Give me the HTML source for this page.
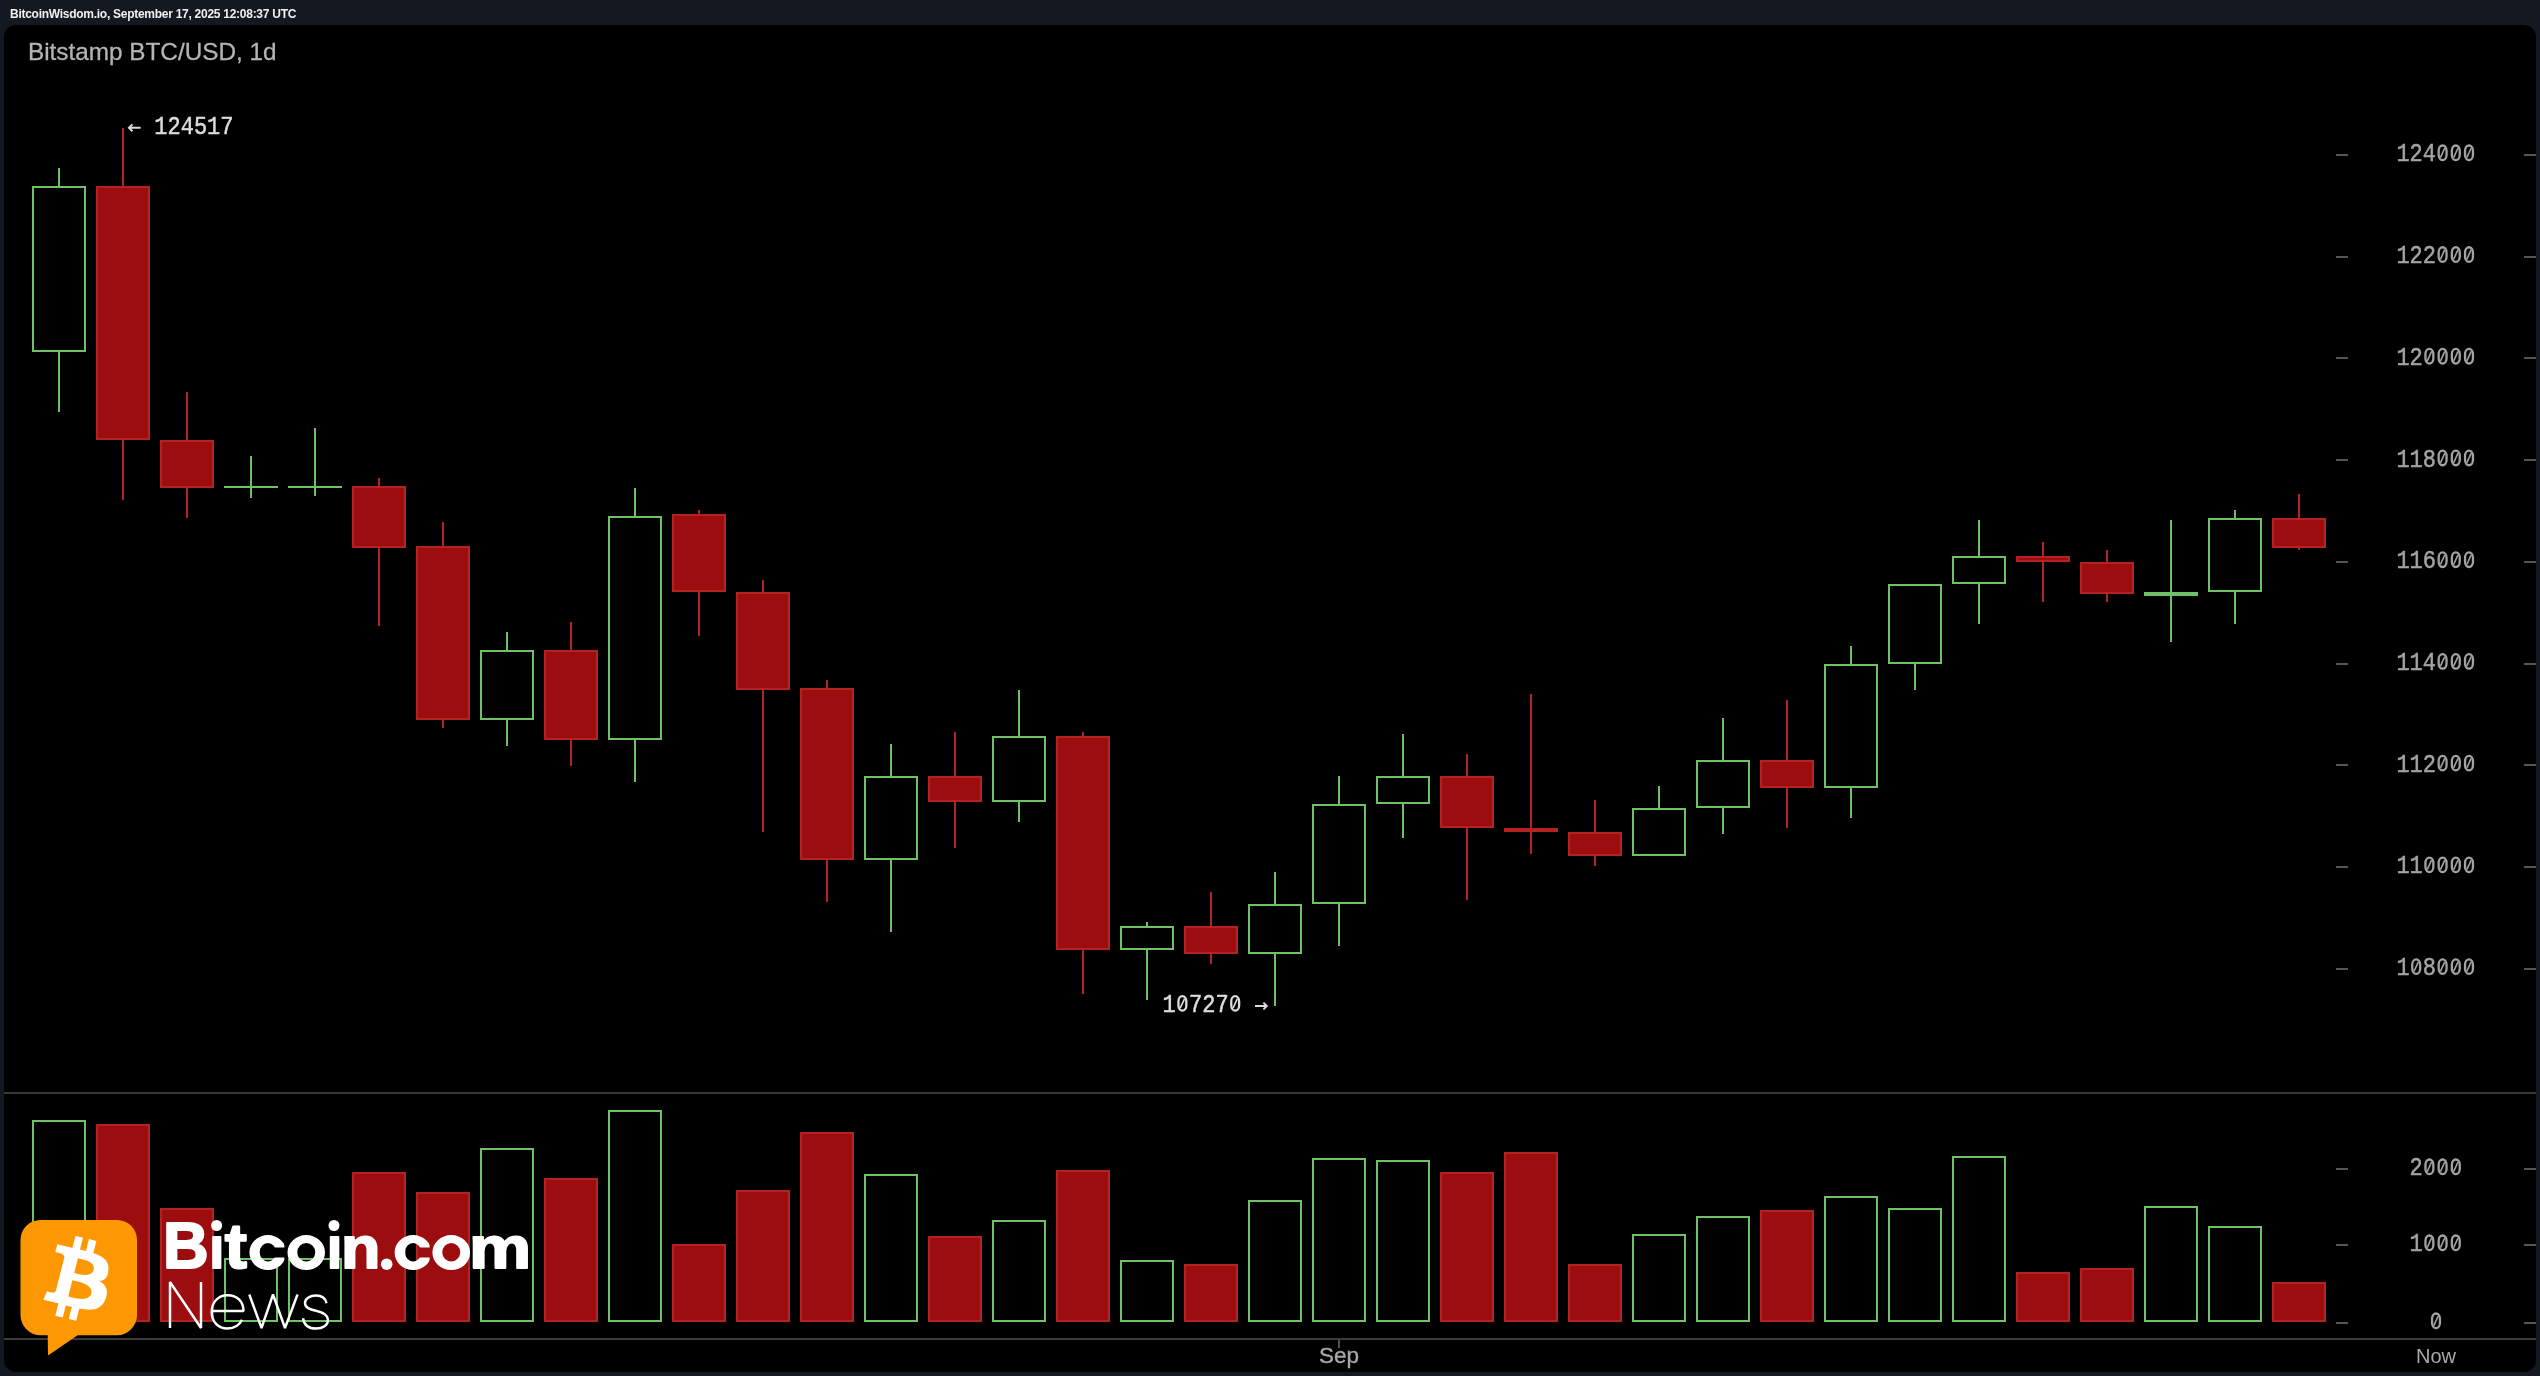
<!DOCTYPE html>
<html><head><meta charset="utf-8"><style>
html,body{margin:0;padding:0;background:#141821;width:2540px;height:1376px;overflow:hidden}
#top{position:absolute;left:10px;top:7.2px;will-change:transform;font:bold 12px "Liberation Sans",sans-serif;color:#f0f0f0;white-space:nowrap;letter-spacing:-0.27px}
#panel{position:absolute;left:4px;top:25px;width:2532px;height:1347px;background:#000;border-radius:12px;overflow:hidden}
svg{position:absolute;left:0;top:0;will-change:transform}
.ax{font-family:"Liberation Mono",monospace;font-size:22px;fill:#a3a3a3;stroke:#a3a3a3;stroke-width:0.45px;text-anchor:middle}
.t1{font-family:"Liberation Sans",sans-serif;font-size:24.5px;fill:#b4b4b4;stroke:#b4b4b4;stroke-width:0.3px}
.lbl{font-family:"Liberation Mono",monospace;font-size:22px;fill:#dcdcdc;stroke:#dcdcdc;stroke-width:0.45px}
.xl{font-family:"Liberation Sans",sans-serif;font-size:20px;fill:#a8a8a8;text-anchor:middle}
</style></head><body>
<div id="top">BitcoinWisdom.io, September 17, 2025 12:08:37 UTC</div>
<div id="panel"></div>
<svg width="2540" height="1376" viewBox="0 0 2540 1376">
<text x="28" y="60.3" class="t1" textLength="248.5" lengthAdjust="spacingAndGlyphs">Bitstamp BTC/USD, 1d</text>
<rect x="4" y="1092" width="2532" height="2" fill="#393939"/>
<rect x="4" y="1338" width="2532" height="2" fill="#3c3c3c"/>
<rect x="1338" y="1340" width="2" height="8" fill="#555"/>
<rect x="58" y="168" width="2" height="18" fill="#6fc166"/>
<rect x="58" y="352" width="2" height="60" fill="#6fc166"/>
<rect x="33" y="187" width="52" height="164" fill="none" stroke="#6fc166" stroke-width="2"/>
<rect x="122" y="128" width="2" height="58" fill="#b42322"/>
<rect x="122" y="440" width="2" height="60" fill="#b42322"/>
<rect x="97" y="187" width="52" height="252" fill="#9b0d0e" stroke="#b42322" stroke-width="2"/>
<rect x="186" y="392" width="2" height="48" fill="#b42322"/>
<rect x="186" y="488" width="2" height="30" fill="#b42322"/>
<rect x="161" y="441" width="52" height="46" fill="#9b0d0e" stroke="#b42322" stroke-width="2"/>
<rect x="250" y="456" width="2" height="30" fill="#6fc166"/>
<rect x="250" y="488" width="2" height="10" fill="#6fc166"/>
<rect x="224" y="486" width="54" height="2" fill="#6fc166"/>
<rect x="314" y="428" width="2" height="58" fill="#6fc166"/>
<rect x="314" y="488" width="2" height="8" fill="#6fc166"/>
<rect x="288" y="486" width="54" height="2" fill="#6fc166"/>
<rect x="378" y="478" width="2" height="8" fill="#b42322"/>
<rect x="378" y="548" width="2" height="78" fill="#b42322"/>
<rect x="353" y="487" width="52" height="60" fill="#9b0d0e" stroke="#b42322" stroke-width="2"/>
<rect x="442" y="522" width="2" height="24" fill="#b42322"/>
<rect x="442" y="720" width="2" height="8" fill="#b42322"/>
<rect x="417" y="547" width="52" height="172" fill="#9b0d0e" stroke="#b42322" stroke-width="2"/>
<rect x="506" y="632" width="2" height="18" fill="#6fc166"/>
<rect x="506" y="720" width="2" height="26" fill="#6fc166"/>
<rect x="481" y="651" width="52" height="68" fill="none" stroke="#6fc166" stroke-width="2"/>
<rect x="570" y="622" width="2" height="28" fill="#b42322"/>
<rect x="570" y="740" width="2" height="26" fill="#b42322"/>
<rect x="545" y="651" width="52" height="88" fill="#9b0d0e" stroke="#b42322" stroke-width="2"/>
<rect x="634" y="488" width="2" height="28" fill="#6fc166"/>
<rect x="634" y="740" width="2" height="42" fill="#6fc166"/>
<rect x="609" y="517" width="52" height="222" fill="none" stroke="#6fc166" stroke-width="2"/>
<rect x="698" y="510" width="2" height="4" fill="#b42322"/>
<rect x="698" y="592" width="2" height="44" fill="#b42322"/>
<rect x="673" y="515" width="52" height="76" fill="#9b0d0e" stroke="#b42322" stroke-width="2"/>
<rect x="762" y="580" width="2" height="12" fill="#b42322"/>
<rect x="762" y="690" width="2" height="142" fill="#b42322"/>
<rect x="737" y="593" width="52" height="96" fill="#9b0d0e" stroke="#b42322" stroke-width="2"/>
<rect x="826" y="680" width="2" height="8" fill="#b42322"/>
<rect x="826" y="860" width="2" height="42" fill="#b42322"/>
<rect x="801" y="689" width="52" height="170" fill="#9b0d0e" stroke="#b42322" stroke-width="2"/>
<rect x="890" y="744" width="2" height="32" fill="#6fc166"/>
<rect x="890" y="860" width="2" height="72" fill="#6fc166"/>
<rect x="865" y="777" width="52" height="82" fill="none" stroke="#6fc166" stroke-width="2"/>
<rect x="954" y="732" width="2" height="44" fill="#b42322"/>
<rect x="954" y="802" width="2" height="46" fill="#b42322"/>
<rect x="929" y="777" width="52" height="24" fill="#9b0d0e" stroke="#b42322" stroke-width="2"/>
<rect x="1018" y="690" width="2" height="46" fill="#6fc166"/>
<rect x="1018" y="802" width="2" height="20" fill="#6fc166"/>
<rect x="993" y="737" width="52" height="64" fill="none" stroke="#6fc166" stroke-width="2"/>
<rect x="1082" y="732" width="2" height="4" fill="#b42322"/>
<rect x="1082" y="950" width="2" height="44" fill="#b42322"/>
<rect x="1057" y="737" width="52" height="212" fill="#9b0d0e" stroke="#b42322" stroke-width="2"/>
<rect x="1146" y="922" width="2" height="4" fill="#6fc166"/>
<rect x="1146" y="950" width="2" height="50" fill="#6fc166"/>
<rect x="1121" y="927" width="52" height="22" fill="none" stroke="#6fc166" stroke-width="2"/>
<rect x="1210" y="892" width="2" height="34" fill="#b42322"/>
<rect x="1210" y="954" width="2" height="10" fill="#b42322"/>
<rect x="1185" y="927" width="52" height="26" fill="#9b0d0e" stroke="#b42322" stroke-width="2"/>
<rect x="1274" y="872" width="2" height="32" fill="#6fc166"/>
<rect x="1274" y="954" width="2" height="52" fill="#6fc166"/>
<rect x="1249" y="905" width="52" height="48" fill="none" stroke="#6fc166" stroke-width="2"/>
<rect x="1338" y="776" width="2" height="28" fill="#6fc166"/>
<rect x="1338" y="904" width="2" height="42" fill="#6fc166"/>
<rect x="1313" y="805" width="52" height="98" fill="none" stroke="#6fc166" stroke-width="2"/>
<rect x="1402" y="734" width="2" height="42" fill="#6fc166"/>
<rect x="1402" y="804" width="2" height="34" fill="#6fc166"/>
<rect x="1377" y="777" width="52" height="26" fill="none" stroke="#6fc166" stroke-width="2"/>
<rect x="1466" y="754" width="2" height="22" fill="#b42322"/>
<rect x="1466" y="828" width="2" height="72" fill="#b42322"/>
<rect x="1441" y="777" width="52" height="50" fill="#9b0d0e" stroke="#b42322" stroke-width="2"/>
<rect x="1530" y="694" width="2" height="134" fill="#b42322"/>
<rect x="1530" y="832" width="2" height="22" fill="#b42322"/>
<rect x="1505" y="829" width="52" height="2" fill="#9b0d0e" stroke="#b42322" stroke-width="2"/>
<rect x="1594" y="800" width="2" height="32" fill="#b42322"/>
<rect x="1594" y="856" width="2" height="10" fill="#b42322"/>
<rect x="1569" y="833" width="52" height="22" fill="#9b0d0e" stroke="#b42322" stroke-width="2"/>
<rect x="1658" y="786" width="2" height="22" fill="#6fc166"/>
<rect x="1633" y="809" width="52" height="46" fill="none" stroke="#6fc166" stroke-width="2"/>
<rect x="1722" y="718" width="2" height="42" fill="#6fc166"/>
<rect x="1722" y="808" width="2" height="26" fill="#6fc166"/>
<rect x="1697" y="761" width="52" height="46" fill="none" stroke="#6fc166" stroke-width="2"/>
<rect x="1786" y="700" width="2" height="60" fill="#b42322"/>
<rect x="1786" y="788" width="2" height="40" fill="#b42322"/>
<rect x="1761" y="761" width="52" height="26" fill="#9b0d0e" stroke="#b42322" stroke-width="2"/>
<rect x="1850" y="646" width="2" height="18" fill="#6fc166"/>
<rect x="1850" y="788" width="2" height="30" fill="#6fc166"/>
<rect x="1825" y="665" width="52" height="122" fill="none" stroke="#6fc166" stroke-width="2"/>
<rect x="1914" y="664" width="2" height="26" fill="#6fc166"/>
<rect x="1889" y="585" width="52" height="78" fill="none" stroke="#6fc166" stroke-width="2"/>
<rect x="1978" y="520" width="2" height="36" fill="#6fc166"/>
<rect x="1978" y="584" width="2" height="40" fill="#6fc166"/>
<rect x="1953" y="557" width="52" height="26" fill="none" stroke="#6fc166" stroke-width="2"/>
<rect x="2042" y="542" width="2" height="14" fill="#b42322"/>
<rect x="2042" y="562" width="2" height="40" fill="#b42322"/>
<rect x="2017" y="557" width="52" height="4" fill="#9b0d0e" stroke="#b42322" stroke-width="2"/>
<rect x="2106" y="550" width="2" height="12" fill="#b42322"/>
<rect x="2106" y="594" width="2" height="8" fill="#b42322"/>
<rect x="2081" y="563" width="52" height="30" fill="#9b0d0e" stroke="#b42322" stroke-width="2"/>
<rect x="2170" y="520" width="2" height="72" fill="#6fc166"/>
<rect x="2170" y="596" width="2" height="46" fill="#6fc166"/>
<rect x="2145" y="593" width="52" height="2" fill="none" stroke="#6fc166" stroke-width="2"/>
<rect x="2234" y="510" width="2" height="8" fill="#6fc166"/>
<rect x="2234" y="592" width="2" height="32" fill="#6fc166"/>
<rect x="2209" y="519" width="52" height="72" fill="none" stroke="#6fc166" stroke-width="2"/>
<rect x="2298" y="494" width="2" height="24" fill="#b42322"/>
<rect x="2298" y="548" width="2" height="2" fill="#b42322"/>
<rect x="2273" y="519" width="52" height="28" fill="#9b0d0e" stroke="#b42322" stroke-width="2"/>
<rect x="33" y="1121" width="52" height="200" fill="none" stroke="#6fc166" stroke-width="2"/>
<rect x="97" y="1125" width="52" height="196" fill="#9b0d0e" stroke="#b42322" stroke-width="2"/>
<rect x="161" y="1209" width="52" height="112" fill="#9b0d0e" stroke="#b42322" stroke-width="2"/>
<rect x="225" y="1259" width="52" height="62" fill="none" stroke="#6fc166" stroke-width="2"/>
<rect x="289" y="1259" width="52" height="62" fill="none" stroke="#6fc166" stroke-width="2"/>
<rect x="353" y="1173" width="52" height="148" fill="#9b0d0e" stroke="#b42322" stroke-width="2"/>
<rect x="417" y="1193" width="52" height="128" fill="#9b0d0e" stroke="#b42322" stroke-width="2"/>
<rect x="481" y="1149" width="52" height="172" fill="none" stroke="#6fc166" stroke-width="2"/>
<rect x="545" y="1179" width="52" height="142" fill="#9b0d0e" stroke="#b42322" stroke-width="2"/>
<rect x="609" y="1111" width="52" height="210" fill="none" stroke="#6fc166" stroke-width="2"/>
<rect x="673" y="1245" width="52" height="76" fill="#9b0d0e" stroke="#b42322" stroke-width="2"/>
<rect x="737" y="1191" width="52" height="130" fill="#9b0d0e" stroke="#b42322" stroke-width="2"/>
<rect x="801" y="1133" width="52" height="188" fill="#9b0d0e" stroke="#b42322" stroke-width="2"/>
<rect x="865" y="1175" width="52" height="146" fill="none" stroke="#6fc166" stroke-width="2"/>
<rect x="929" y="1237" width="52" height="84" fill="#9b0d0e" stroke="#b42322" stroke-width="2"/>
<rect x="993" y="1221" width="52" height="100" fill="none" stroke="#6fc166" stroke-width="2"/>
<rect x="1057" y="1171" width="52" height="150" fill="#9b0d0e" stroke="#b42322" stroke-width="2"/>
<rect x="1121" y="1261" width="52" height="60" fill="none" stroke="#6fc166" stroke-width="2"/>
<rect x="1185" y="1265" width="52" height="56" fill="#9b0d0e" stroke="#b42322" stroke-width="2"/>
<rect x="1249" y="1201" width="52" height="120" fill="none" stroke="#6fc166" stroke-width="2"/>
<rect x="1313" y="1159" width="52" height="162" fill="none" stroke="#6fc166" stroke-width="2"/>
<rect x="1377" y="1161" width="52" height="160" fill="none" stroke="#6fc166" stroke-width="2"/>
<rect x="1441" y="1173" width="52" height="148" fill="#9b0d0e" stroke="#b42322" stroke-width="2"/>
<rect x="1505" y="1153" width="52" height="168" fill="#9b0d0e" stroke="#b42322" stroke-width="2"/>
<rect x="1569" y="1265" width="52" height="56" fill="#9b0d0e" stroke="#b42322" stroke-width="2"/>
<rect x="1633" y="1235" width="52" height="86" fill="none" stroke="#6fc166" stroke-width="2"/>
<rect x="1697" y="1217" width="52" height="104" fill="none" stroke="#6fc166" stroke-width="2"/>
<rect x="1761" y="1211" width="52" height="110" fill="#9b0d0e" stroke="#b42322" stroke-width="2"/>
<rect x="1825" y="1197" width="52" height="124" fill="none" stroke="#6fc166" stroke-width="2"/>
<rect x="1889" y="1209" width="52" height="112" fill="none" stroke="#6fc166" stroke-width="2"/>
<rect x="1953" y="1157" width="52" height="164" fill="none" stroke="#6fc166" stroke-width="2"/>
<rect x="2017" y="1273" width="52" height="48" fill="#9b0d0e" stroke="#b42322" stroke-width="2"/>
<rect x="2081" y="1269" width="52" height="52" fill="#9b0d0e" stroke="#b42322" stroke-width="2"/>
<rect x="2145" y="1207" width="52" height="114" fill="none" stroke="#6fc166" stroke-width="2"/>
<rect x="2209" y="1227" width="52" height="94" fill="none" stroke="#6fc166" stroke-width="2"/>
<rect x="2273" y="1283" width="52" height="38" fill="#9b0d0e" stroke="#b42322" stroke-width="2"/>
<rect x="2336" y="154" width="12" height="2" fill="#555555"/><rect x="2524" y="154" width="12" height="2" fill="#555555"/>
<text transform="translate(2436,161.3) scale(1,1.17)" class="ax" xml:space="preserve">124   </text><rect x="2438.65" y="145.50" width="7.9" height="14.6" rx="3.95" ry="5.2" fill="none" stroke="#a3a3a3" stroke-width="2.3"/><path d="M2440.4,157.6 L2444.8,148.0" stroke="#a3a3a3" stroke-width="1.6"/><rect x="2451.85" y="145.50" width="7.9" height="14.6" rx="3.95" ry="5.2" fill="none" stroke="#a3a3a3" stroke-width="2.3"/><path d="M2453.6,157.6 L2458.0,148.0" stroke="#a3a3a3" stroke-width="1.6"/><rect x="2465.05" y="145.50" width="7.9" height="14.6" rx="3.95" ry="5.2" fill="none" stroke="#a3a3a3" stroke-width="2.3"/><path d="M2466.8,157.6 L2471.2,148.0" stroke="#a3a3a3" stroke-width="1.6"/>
<rect x="2336" y="256" width="12" height="2" fill="#555555"/><rect x="2524" y="256" width="12" height="2" fill="#555555"/>
<text transform="translate(2436,263.0) scale(1,1.17)" class="ax" xml:space="preserve">122   </text><rect x="2438.65" y="247.23" width="7.9" height="14.6" rx="3.95" ry="5.2" fill="none" stroke="#a3a3a3" stroke-width="2.3"/><path d="M2440.4,259.3 L2444.8,249.7" stroke="#a3a3a3" stroke-width="1.6"/><rect x="2451.85" y="247.23" width="7.9" height="14.6" rx="3.95" ry="5.2" fill="none" stroke="#a3a3a3" stroke-width="2.3"/><path d="M2453.6,259.3 L2458.0,249.7" stroke="#a3a3a3" stroke-width="1.6"/><rect x="2465.05" y="247.23" width="7.9" height="14.6" rx="3.95" ry="5.2" fill="none" stroke="#a3a3a3" stroke-width="2.3"/><path d="M2466.8,259.3 L2471.2,249.7" stroke="#a3a3a3" stroke-width="1.6"/>
<rect x="2336" y="357" width="12" height="2" fill="#555555"/><rect x="2524" y="357" width="12" height="2" fill="#555555"/>
<text transform="translate(2436,364.8) scale(1,1.17)" class="ax" xml:space="preserve">12    </text><rect x="2425.45" y="348.95" width="7.9" height="14.6" rx="3.95" ry="5.2" fill="none" stroke="#a3a3a3" stroke-width="2.3"/><path d="M2427.2,361.1 L2431.6,351.4" stroke="#a3a3a3" stroke-width="1.6"/><rect x="2438.65" y="348.95" width="7.9" height="14.6" rx="3.95" ry="5.2" fill="none" stroke="#a3a3a3" stroke-width="2.3"/><path d="M2440.4,361.1 L2444.8,351.4" stroke="#a3a3a3" stroke-width="1.6"/><rect x="2451.85" y="348.95" width="7.9" height="14.6" rx="3.95" ry="5.2" fill="none" stroke="#a3a3a3" stroke-width="2.3"/><path d="M2453.6,361.1 L2458.0,351.4" stroke="#a3a3a3" stroke-width="1.6"/><rect x="2465.05" y="348.95" width="7.9" height="14.6" rx="3.95" ry="5.2" fill="none" stroke="#a3a3a3" stroke-width="2.3"/><path d="M2466.8,361.1 L2471.2,351.4" stroke="#a3a3a3" stroke-width="1.6"/>
<rect x="2336" y="459" width="12" height="2" fill="#555555"/><rect x="2524" y="459" width="12" height="2" fill="#555555"/>
<text transform="translate(2436,466.5) scale(1,1.17)" class="ax" xml:space="preserve">118   </text><rect x="2438.65" y="450.67" width="7.9" height="14.6" rx="3.95" ry="5.2" fill="none" stroke="#a3a3a3" stroke-width="2.3"/><path d="M2440.4,462.8 L2444.8,453.2" stroke="#a3a3a3" stroke-width="1.6"/><rect x="2451.85" y="450.67" width="7.9" height="14.6" rx="3.95" ry="5.2" fill="none" stroke="#a3a3a3" stroke-width="2.3"/><path d="M2453.6,462.8 L2458.0,453.2" stroke="#a3a3a3" stroke-width="1.6"/><rect x="2465.05" y="450.67" width="7.9" height="14.6" rx="3.95" ry="5.2" fill="none" stroke="#a3a3a3" stroke-width="2.3"/><path d="M2466.8,462.8 L2471.2,453.2" stroke="#a3a3a3" stroke-width="1.6"/>
<rect x="2336" y="561" width="12" height="2" fill="#555555"/><rect x="2524" y="561" width="12" height="2" fill="#555555"/>
<text transform="translate(2436,568.2) scale(1,1.17)" class="ax" xml:space="preserve">116   </text><rect x="2438.65" y="552.40" width="7.9" height="14.6" rx="3.95" ry="5.2" fill="none" stroke="#a3a3a3" stroke-width="2.3"/><path d="M2440.4,564.5 L2444.8,554.9" stroke="#a3a3a3" stroke-width="1.6"/><rect x="2451.85" y="552.40" width="7.9" height="14.6" rx="3.95" ry="5.2" fill="none" stroke="#a3a3a3" stroke-width="2.3"/><path d="M2453.6,564.5 L2458.0,554.9" stroke="#a3a3a3" stroke-width="1.6"/><rect x="2465.05" y="552.40" width="7.9" height="14.6" rx="3.95" ry="5.2" fill="none" stroke="#a3a3a3" stroke-width="2.3"/><path d="M2466.8,564.5 L2471.2,554.9" stroke="#a3a3a3" stroke-width="1.6"/>
<rect x="2336" y="663" width="12" height="2" fill="#555555"/><rect x="2524" y="663" width="12" height="2" fill="#555555"/>
<text transform="translate(2436,669.9) scale(1,1.17)" class="ax" xml:space="preserve">114   </text><rect x="2438.65" y="654.12" width="7.9" height="14.6" rx="3.95" ry="5.2" fill="none" stroke="#a3a3a3" stroke-width="2.3"/><path d="M2440.4,666.2 L2444.8,656.6" stroke="#a3a3a3" stroke-width="1.6"/><rect x="2451.85" y="654.12" width="7.9" height="14.6" rx="3.95" ry="5.2" fill="none" stroke="#a3a3a3" stroke-width="2.3"/><path d="M2453.6,666.2 L2458.0,656.6" stroke="#a3a3a3" stroke-width="1.6"/><rect x="2465.05" y="654.12" width="7.9" height="14.6" rx="3.95" ry="5.2" fill="none" stroke="#a3a3a3" stroke-width="2.3"/><path d="M2466.8,666.2 L2471.2,656.6" stroke="#a3a3a3" stroke-width="1.6"/>
<rect x="2336" y="764" width="12" height="2" fill="#555555"/><rect x="2524" y="764" width="12" height="2" fill="#555555"/>
<text transform="translate(2436,771.6) scale(1,1.17)" class="ax" xml:space="preserve">112   </text><rect x="2438.65" y="755.85" width="7.9" height="14.6" rx="3.95" ry="5.2" fill="none" stroke="#a3a3a3" stroke-width="2.3"/><path d="M2440.4,767.9 L2444.8,758.3" stroke="#a3a3a3" stroke-width="1.6"/><rect x="2451.85" y="755.85" width="7.9" height="14.6" rx="3.95" ry="5.2" fill="none" stroke="#a3a3a3" stroke-width="2.3"/><path d="M2453.6,767.9 L2458.0,758.3" stroke="#a3a3a3" stroke-width="1.6"/><rect x="2465.05" y="755.85" width="7.9" height="14.6" rx="3.95" ry="5.2" fill="none" stroke="#a3a3a3" stroke-width="2.3"/><path d="M2466.8,767.9 L2471.2,758.3" stroke="#a3a3a3" stroke-width="1.6"/>
<rect x="2336" y="866" width="12" height="2" fill="#555555"/><rect x="2524" y="866" width="12" height="2" fill="#555555"/>
<text transform="translate(2436,873.4) scale(1,1.17)" class="ax" xml:space="preserve">11    </text><rect x="2425.45" y="857.57" width="7.9" height="14.6" rx="3.95" ry="5.2" fill="none" stroke="#a3a3a3" stroke-width="2.3"/><path d="M2427.2,869.7 L2431.6,860.1" stroke="#a3a3a3" stroke-width="1.6"/><rect x="2438.65" y="857.57" width="7.9" height="14.6" rx="3.95" ry="5.2" fill="none" stroke="#a3a3a3" stroke-width="2.3"/><path d="M2440.4,869.7 L2444.8,860.1" stroke="#a3a3a3" stroke-width="1.6"/><rect x="2451.85" y="857.57" width="7.9" height="14.6" rx="3.95" ry="5.2" fill="none" stroke="#a3a3a3" stroke-width="2.3"/><path d="M2453.6,869.7 L2458.0,860.1" stroke="#a3a3a3" stroke-width="1.6"/><rect x="2465.05" y="857.57" width="7.9" height="14.6" rx="3.95" ry="5.2" fill="none" stroke="#a3a3a3" stroke-width="2.3"/><path d="M2466.8,869.7 L2471.2,860.1" stroke="#a3a3a3" stroke-width="1.6"/>
<rect x="2336" y="968" width="12" height="2" fill="#555555"/><rect x="2524" y="968" width="12" height="2" fill="#555555"/>
<text transform="translate(2436,975.1) scale(1,1.17)" class="ax" xml:space="preserve">1 8   </text><rect x="2412.25" y="959.30" width="7.9" height="14.6" rx="3.95" ry="5.2" fill="none" stroke="#a3a3a3" stroke-width="2.3"/><path d="M2414.0,971.4 L2418.4,961.8" stroke="#a3a3a3" stroke-width="1.6"/><rect x="2438.65" y="959.30" width="7.9" height="14.6" rx="3.95" ry="5.2" fill="none" stroke="#a3a3a3" stroke-width="2.3"/><path d="M2440.4,971.4 L2444.8,961.8" stroke="#a3a3a3" stroke-width="1.6"/><rect x="2451.85" y="959.30" width="7.9" height="14.6" rx="3.95" ry="5.2" fill="none" stroke="#a3a3a3" stroke-width="2.3"/><path d="M2453.6,971.4 L2458.0,961.8" stroke="#a3a3a3" stroke-width="1.6"/><rect x="2465.05" y="959.30" width="7.9" height="14.6" rx="3.95" ry="5.2" fill="none" stroke="#a3a3a3" stroke-width="2.3"/><path d="M2466.8,971.4 L2471.2,961.8" stroke="#a3a3a3" stroke-width="1.6"/>
<rect x="2336" y="1168" width="12" height="2" fill="#555555"/><rect x="2524" y="1168" width="12" height="2" fill="#555555"/>
<text transform="translate(2436,1175.3) scale(1,1.17)" class="ax" xml:space="preserve">2   </text><rect x="2425.45" y="1159.50" width="7.9" height="14.6" rx="3.95" ry="5.2" fill="none" stroke="#a3a3a3" stroke-width="2.3"/><path d="M2427.2,1171.6 L2431.6,1162.0" stroke="#a3a3a3" stroke-width="1.6"/><rect x="2438.65" y="1159.50" width="7.9" height="14.6" rx="3.95" ry="5.2" fill="none" stroke="#a3a3a3" stroke-width="2.3"/><path d="M2440.4,1171.6 L2444.8,1162.0" stroke="#a3a3a3" stroke-width="1.6"/><rect x="2451.85" y="1159.50" width="7.9" height="14.6" rx="3.95" ry="5.2" fill="none" stroke="#a3a3a3" stroke-width="2.3"/><path d="M2453.6,1171.6 L2458.0,1162.0" stroke="#a3a3a3" stroke-width="1.6"/>
<rect x="2336" y="1244" width="12" height="2" fill="#555555"/><rect x="2524" y="1244" width="12" height="2" fill="#555555"/>
<text transform="translate(2436,1251.3) scale(1,1.17)" class="ax" xml:space="preserve">1   </text><rect x="2425.45" y="1235.50" width="7.9" height="14.6" rx="3.95" ry="5.2" fill="none" stroke="#a3a3a3" stroke-width="2.3"/><path d="M2427.2,1247.6 L2431.6,1238.0" stroke="#a3a3a3" stroke-width="1.6"/><rect x="2438.65" y="1235.50" width="7.9" height="14.6" rx="3.95" ry="5.2" fill="none" stroke="#a3a3a3" stroke-width="2.3"/><path d="M2440.4,1247.6 L2444.8,1238.0" stroke="#a3a3a3" stroke-width="1.6"/><rect x="2451.85" y="1235.50" width="7.9" height="14.6" rx="3.95" ry="5.2" fill="none" stroke="#a3a3a3" stroke-width="2.3"/><path d="M2453.6,1247.6 L2458.0,1238.0" stroke="#a3a3a3" stroke-width="1.6"/>
<rect x="2336" y="1322" width="12" height="2" fill="#555555"/><rect x="2524" y="1322" width="12" height="2" fill="#555555"/>
<text transform="translate(2436,1329.3) scale(1,1.17)" class="ax" xml:space="preserve"> </text><rect x="2432.05" y="1313.50" width="7.9" height="14.6" rx="3.95" ry="5.2" fill="none" stroke="#a3a3a3" stroke-width="2.3"/><path d="M2433.8,1325.6 L2438.2,1316.0" stroke="#a3a3a3" stroke-width="1.6"/>
<text transform="translate(154.3,134.2) scale(1,1.17)" class="lbl" xml:space="preserve">124517</text>
<text transform="translate(1162.6,1011.9) scale(1,1.17)" class="lbl" xml:space="preserve">1 727 </text><rect x="1178.45" y="996.10" width="7.9" height="14.6" rx="3.95" ry="5.2" fill="none" stroke="#dcdcdc" stroke-width="2.3"/><path d="M1180.2,1008.2 L1184.6,998.6" stroke="#dcdcdc" stroke-width="1.6"/><rect x="1231.25" y="996.10" width="7.9" height="14.6" rx="3.95" ry="5.2" fill="none" stroke="#dcdcdc" stroke-width="2.3"/><path d="M1233.0,1008.2 L1237.4,998.6" stroke="#dcdcdc" stroke-width="1.6"/>
<path d="M140.6,127.8 H129.5 M132.4,124.4 L129,127.8 L132.4,131.2" fill="none" stroke="#dcdcdc" stroke-width="2"/>
<path d="M1255,1006 H1266.3 M1263.4,1002.6 L1266.8,1006 L1263.4,1009.4" fill="none" stroke="#dcdcdc" stroke-width="2"/>
<text x="1339" y="1363" class="xl" style="font-size:22.5px;stroke:#a8a8a8;stroke-width:0.35px">Sep</text>
<text x="2436" y="1363" class="xl">Now</text>
<g id="logo">
<path d="M40.5,1220 H117 A20,20 0 0 1 137,1240 V1315.2 A20,20 0 0 1 117,1335.2 H77.6 L48,1355.5 L47.7,1335.2 H40.5 A20,20 0 0 1 20.5,1315.2 V1240 A20,20 0 0 1 40.5,1220 Z" fill="#fd9803"/>
<path transform="translate(10.14,1212.4) scale(2.13,2.098)" fill="#fff" d="M46.103,27.444c0.637-4.258-2.605-6.547-7.038-8.074l1.438-5.768l-3.511-0.875l-1.4,5.616c-0.923-0.23-1.871-0.447-2.813-0.662l1.41-5.653l-3.509-0.875l-1.439,5.766c-0.764-0.174-1.514-0.346-2.242-0.527l0.004-0.018l-4.842-1.209l-0.934,3.750c0,0,2.605,0.597,2.550,0.634c1.422,0.355,1.679,1.296,1.636,2.042l-1.638,6.571c0.098,0.025,0.225,0.061,0.365,0.117c-0.117-0.029-0.242-0.061-0.371-0.092l-2.296,9.205c-0.174,0.432-0.615,1.080-1.609,0.834c0.035,0.051-2.552-0.637-2.552-0.637l-1.743,4.019l4.569,1.139c0.850,0.213,1.683,0.436,2.503,0.646l-1.453,5.834l3.507,0.875l1.439-5.772c0.958,0.260,1.888,0.500,2.798,0.726l-1.434,5.745l3.511,0.875l1.453-5.823c5.987,1.133,10.489,0.676,12.384-4.739c1.527-4.360-0.076-6.875-3.226-8.515C44.236,32.641,45.971,31.143,46.103,27.444L46.103,27.444z M38.080,38.690c-1.085,4.360-8.426,2.003-10.806,1.412l1.928-7.729C31.582,32.968,39.216,34.146,38.080,38.690z M39.166,27.381c-0.990,3.966-7.100,1.951-9.082,1.457l1.748-7.010C33.814,22.322,40.195,23.244,39.166,27.381z"/>
<g font-family="Liberation Sans" font-weight="bold" font-size="63" fill="#fff" stroke="#fff" stroke-width="2" stroke-linejoin="round">
<text transform="translate(162.99,1268.20) scale(1.003,1.030)">B</text>
<text transform="translate(209.18,1268.20) scale(0.856,0.933)">ı</text>
<text transform="translate(224.64,1267.81) scale(1.058,0.993)">t</text>
<text transform="translate(326.64,1268.20) scale(0.889,0.933)">ı</text>
<text transform="translate(341.01,1268.20) scale(1.023,0.941)">n</text>
<text transform="translate(468.96,1268.20) scale(1.110,0.941)">m</text>
</g>
<clipPath id="cc0"><path d="M237.89999999999998,1220 H284.4 V1247.6 H267.9 V1257.4 H284.4 V1285 H237.89999999999998 Z"/></clipPath><path clip-path="url(#cc0)" fill-rule="evenodd" fill="#fff" d="M249.40,1252.55 A18.5,17.45 0 1 0 286.40,1252.55 A18.5,17.45 0 1 0 249.40,1252.55 Z M259.70,1252.25 A8.2,9.3 0 1 0 276.10,1252.25 A8.2,9.3 0 1 0 259.70,1252.25 Z"/>
<clipPath id="cc1"><path d="M383.1,1220 H429.6 V1247.6 H413.1 V1257.4 H429.6 V1285 H383.1 Z"/></clipPath><path clip-path="url(#cc1)" fill-rule="evenodd" fill="#fff" d="M394.60,1252.55 A18.5,17.45 0 1 0 431.60,1252.55 A18.5,17.45 0 1 0 394.60,1252.55 Z M404.90,1252.25 A8.2,9.3 0 1 0 421.30,1252.25 A8.2,9.3 0 1 0 404.90,1252.25 Z"/>
<path fill-rule="evenodd" fill="#fff" d="M287.50,1252.55 A18.75,17.45 0 1 0 325.00,1252.55 A18.75,17.45 0 1 0 287.50,1252.55 Z M297.25,1252.25 A9.0,9.3 0 1 0 315.25,1252.25 A9.0,9.3 0 1 0 297.25,1252.25 Z"/>
<path fill-rule="evenodd" fill="#fff" d="M432.40,1252.55 A18.850000000000023,17.45 0 1 0 470.10,1252.55 A18.850000000000023,17.45 0 1 0 432.40,1252.55 Z M442.25,1252.25 A9.0,9.3 0 1 0 460.25,1252.25 A9.0,9.3 0 1 0 442.25,1252.25 Z"/>
<circle cx="216.6" cy="1225.5" r="5.5" fill="#fff"/><circle cx="334.0" cy="1225.5" r="5.5" fill="#fff"/><circle cx="386.7" cy="1264.2" r="5.8" fill="#fff"/>
<g fill="none" stroke="#fff" stroke-width="2.45" stroke-linejoin="bevel">
<path d="M170,1328 L170,1282 L201,1328 L201,1282"/>
<path d="M211.7,1311 L243.5,1311 C243.5,1301.5 237.5,1295.2 227.5,1295.2 C218,1295.2 211.7,1302.3 211.7,1312 C211.7,1321.7 218,1328.5 227.5,1328.5 C234.5,1328.5 239.5,1325 242,1319.8"/>
<path d="M249.3,1294.5 L261.5,1328 L273,1294.5 L285,1328 L297.5,1294.5"/>
<path d="M326.5,1303.2 C325.5,1298 321.2,1295.5 316,1295.5 C309.5,1295.5 305,1298.7 305,1303 C305,1307.8 309.8,1309.3 316,1310.8 C322.8,1312.3 328,1314.5 328,1319.8 C328,1325.2 322.8,1328.5 316,1328.5 C308.8,1328.5 304,1324.8 303,1318.2"/>
</g>
</g>
</svg>
</body></html>
